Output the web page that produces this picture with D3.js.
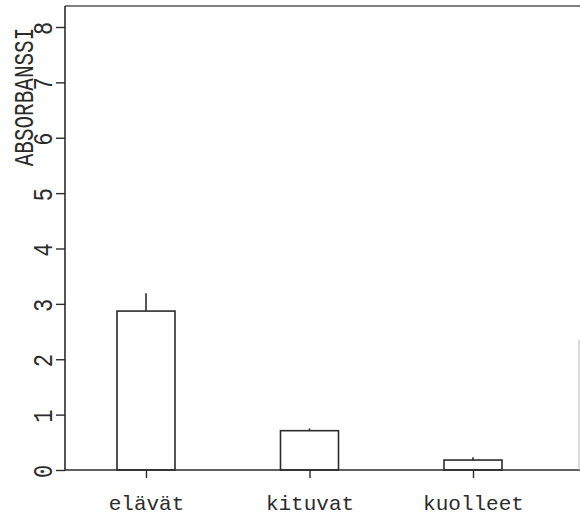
<!DOCTYPE html>
<html><head><meta charset="utf-8">
<script src="https://cdn.jsdelivr.net/npm/d3@7"></script>
<style>body{margin:0;background:#fff}svg{display:block}</style>
</head><body>
<script>
const categories = ["elävät", "kituvat", "kuolleet"];
const means = [2.87, 0.71, 0.18];
const errorTops = [3.19, 0.75, 0.23];
const yTicks = [0, 1, 2, 3, 4, 5, 6, 7, 8];
const yLabel = "ABSORBANSSI";

const W = 580, H = 515;
const svg = d3.select("body").append("svg").attr("width", W).attr("height", H);
const ink = "#2b2b2b";
const font = "'Liberation Mono', 'Courier New', monospace";

const y = d3.scaleLinear().domain([0, 8]).range([470, 27]);
const yTop = 6;
const xLeft = 65, xRight = 580;
const x = d3.scalePoint().domain(categories).range([146, 473]);
const barW = 58;

// frame lines
svg.append("line").attr("x1", xLeft).attr("x2", xRight).attr("y1", yTop).attr("y2", yTop)
  .attr("stroke", "#555").attr("stroke-width", 1.6);
svg.append("line").attr("x1", xLeft).attr("x2", xRight).attr("y1", y(0)).attr("y2", y(0))
  .attr("stroke", ink).attr("stroke-width", 1.6);
svg.append("line").attr("x1", 579).attr("x2", 579).attr("y1", 340).attr("y2", y(0))
  .attr("stroke", "#bbb").attr("stroke-width", 1);

// y axis
const yAxis = d3.axisLeft(y).tickValues(yTicks).tickSize(9).tickFormat(d3.format("d"));
const gy = svg.append("g").attr("transform", `translate(${xLeft},0)`).call(yAxis);
gy.select(".domain").remove();
gy.append("line").attr("x1", 0).attr("x2", 0).attr("y1", yTop).attr("y2", y(0))
  .attr("stroke", ink).attr("stroke-width", 1.6);
gy.selectAll(".tick line").attr("stroke", ink).attr("stroke-width", 1.4);
gy.selectAll(".tick text")
  .attr("x", null).attr("dy", null)
  .attr("text-anchor", "middle")
  .attr("transform", "translate(-13,1) rotate(-90) scale(1,1.25)")
  .attr("y", 0)
  .style("font-family", font).style("font-size", "22px").attr("fill", ink);

// y label
svg.append("text").attr("transform", "translate(33,97) rotate(-90) scale(1,1.3)")
  .attr("text-anchor", "middle").style("font-family", font).style("font-size", "21px")
  .attr("fill", ink).text(yLabel);

// x axis ticks and labels
const xAxis = d3.axisBottom(x).tickSize(8).tickPadding(17);
const gx = svg.append("g").attr("transform", `translate(0,${y(0)})`).call(xAxis);
gx.select(".domain").remove();
gx.selectAll(".tick line").attr("stroke", ink).attr("stroke-width", 1.4);
gx.selectAll(".tick text").style("font-family", font).style("font-size", "21px").attr("fill", ink)
  .attr("dy", "0.71em");

// bars
const data = categories.map((c, i) => ({c, m: means[i], e: errorTops[i]}));
svg.selectAll(".err").data(data).enter().append("line")
  .attr("x1", d => x(d.c)).attr("x2", d => x(d.c))
  .attr("y1", d => y(d.m)).attr("y2", d => y(d.e))
  .attr("stroke", ink).attr("stroke-width", 1.6);
svg.selectAll(".bar").data(data).enter().append("rect")
  .attr("x", d => x(d.c) - barW / 2).attr("width", barW)
  .attr("y", d => y(d.m)).attr("height", d => y(0) - y(d.m))
  .attr("fill", "none").attr("stroke", ink).attr("stroke-width", 1.6);
</script>
</body></html>
